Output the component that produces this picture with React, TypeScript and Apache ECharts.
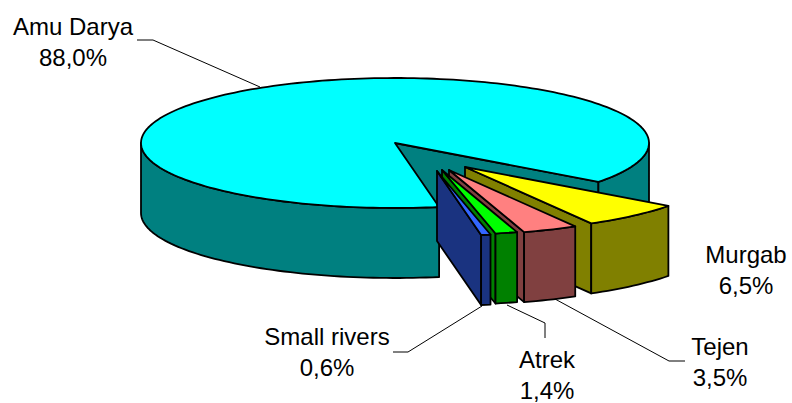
import React, { useEffect, useRef } from "react";
import * as echarts from "echarts";

const categories = ["Amu Darya", "Murgab", "Tejen", "Atrek", "Small rivers"];
const shares = [88.0, 6.5, 3.5, 1.4, 0.6];

const topColors = ["#00FFFF", "#FFFF00", "#FF8080", "#00FF00", "#3366FF"];
const sideColors = ["#008080", "#808000", "#804040", "#008000", "#1A3380"];

// Pie geometry in pixels: a tilted disc, so angles are taken on an ellipse.
const CX = 395;
const CY = 143;
const RX = 254;
const RY = 65;
const DEPTH = 70;
const FIRST_ANGLE = 80;

// How far each slice is pulled out of the pie.
const explode: [number, number][] = [[0, 0], [70, 24], [54, 27], [47, 27], [42, 28]];

// Centre of each two-line label.
const labelAnchors: [number, number][] = [[73, 42], [746, 270], [720, 362], [547, 375], [327, 352]];
const LINE_GAP = 31;

const leaderLines: [number, number][][] = [
  [[137, 40], [153, 40], [260, 87]],
  [[555, 299], [669, 361], [685, 361]],
  [[507, 305], [545, 323], [545, 338]],
  [[393, 352], [408, 352], [482, 306]],
];

const STROKE = { stroke: "#000", lineWidth: 1.8, lineJoin: "round" as const };

function arcPoints(x: number, y: number, from: number, to: number) {
  const steps = Math.max(2, Math.ceil(Math.abs(to - from) / 1.5));
  const pts: number[][] = [];
  for (let i = 0; i <= steps; i++) {
    const a = ((from + ((to - from) * i) / steps) * Math.PI) / 180;
    pts.push([x + RX * Math.cos(a), y + RY * Math.sin(a)]);
  }
  return pts;
}

function wall(points: number[][], fill: string) {
  const lowered = points.map(([x, y]) => [x, y + DEPTH]).reverse();
  return {
    type: "polygon",
    shape: { points: [...points, ...lowered] },
    style: { fill, ...STROKE },
  };
}

// Part of the slice's rim that faces the viewer (lower half of the ellipse).
function frontRanges(start: number, end: number) {
  const ranges: [number, number][] = [];
  for (let k = 0; k < 2; k++) {
    const lo = Math.max(start, k * 360);
    const hi = Math.min(end, k * 360 + 180);
    if (hi > lo) ranges.push([lo, hi]);
  }
  return ranges;
}

function renderSlice(params: any, api: any) {
  const i = params.dataIndex;
  const total = shares.reduce((a, b) => a + b, 0);
  const before = shares.slice(0, i).reduce((a, b) => a + b, 0);
  const start = FIRST_ANGLE + (before / total) * 360;
  const end = start + (api.value(1) / total) * 360;
  const x = CX + explode[i][0];
  const y = CY + explode[i][1];
  const rim = arcPoints(x, y, start, end);
  const children: any[] = [];

  // The radial cut at the clockwise end of a slice is the face turned towards the viewer.
  children.push(wall([[x, y], rim[rim.length - 1]], sideColors[i]));
  for (const [lo, hi] of frontRanges(start, end)) {
    children.push(wall(arcPoints(x, y, lo, hi), sideColors[i]));
  }
  children.push({
    type: "polygon",
    shape: { points: [[x, y], ...rim] },
    style: { fill: topColors[i], ...STROKE },
  });
  return { type: "group", children };
}

function labelLine(text: string, x: number, y: number) {
  return {
    type: "text",
    style: {
      x,
      y,
      text,
      textAlign: "center",
      textVerticalAlign: "middle",
      fill: "#000",
      font: "24px 'Liberation Sans', Arial, sans-serif",
      lineHeight: 24,
    },
  };
}

function renderLabel(params: any, api: any) {
  const i = params.dataIndex;
  const [x, y] = labelAnchors[i];
  const percent = `${api.value(1).toFixed(1).replace(".", ",")}%`;
  return {
    type: "group",
    children: [
      labelLine(categories[i], x, y - LINE_GAP / 2),
      labelLine(percent, x, y + LINE_GAP / 2),
    ],
  };
}

export default function App() {
  const ref = useRef<HTMLDivElement>(null);
  useEffect(() => {
    const chart = echarts.init(ref.current!, null, { renderer: "svg" });
    const data = shares.map((v, i) => [i, v]);
    chart.setOption({
      animation: false,
      backgroundColor: "#fff",
      graphic: leaderLines.map((points) => ({
        type: "polyline",
        z: 5,
        shape: { points },
        style: { stroke: "#000", lineWidth: 1, fill: "none" },
      })),
      series: [
        { type: "custom", coordinateSystem: "none", data, renderItem: renderSlice, silent: true, z: 2 },
        { type: "custom", coordinateSystem: "none", data, renderItem: renderLabel, silent: true, z: 6 },
      ],
    });
    return () => chart.dispose();
  }, []);
  return <div ref={ref} style={{ width: 792, height: 403, position: "fixed", left: 0, top: 0 }} />;
}
